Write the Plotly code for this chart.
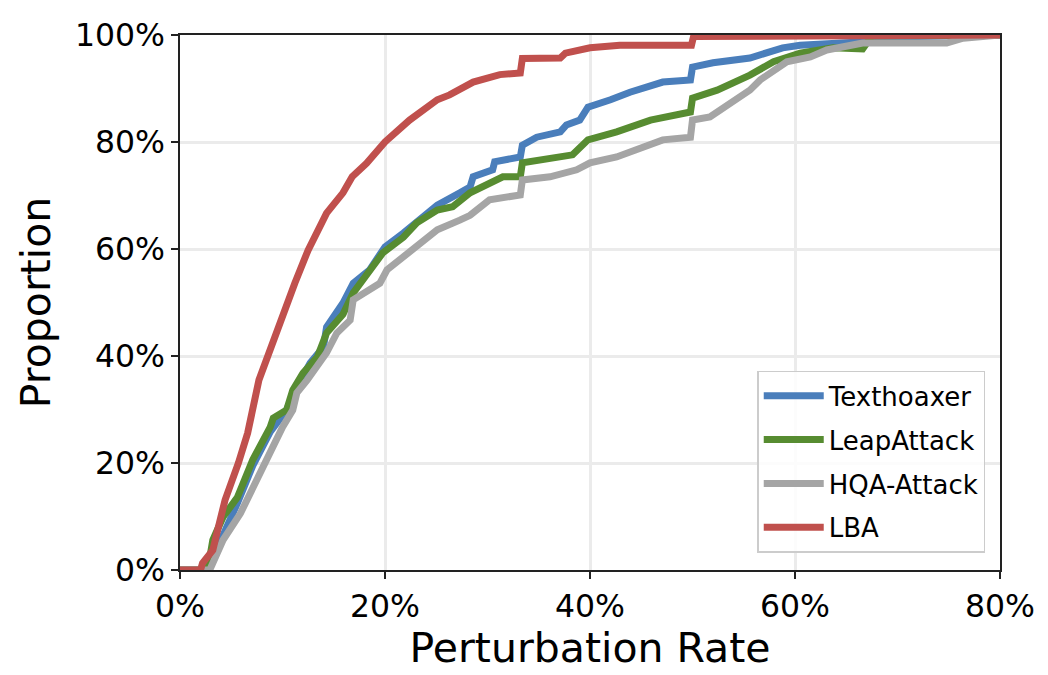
import plotly.graph_objects as go

# Perturbation rate (%) vs cumulative proportion (%)
lba_x = [0, 2.0, 2.2, 3.2, 3.6, 4.4, 5.7, 6.6, 7.7, 9.1, 10.0, 11.2, 12.5, 14.3, 15.9, 16.8, 18.2, 20.0,
         22.4, 25.1, 26.3, 28.6, 31.2, 33.2, 33.4, 37.1, 37.6, 40.0, 42.9, 49.9, 50.1, 80]
lba_y = [0, 0, 1.3, 3.7, 6.9, 13.1, 20.0, 25.6, 35.5, 43.0, 47.5, 53.6, 59.8, 66.7, 70.5, 73.5, 76.0, 80.0,
         84.1, 87.9, 88.8, 91.2, 92.6, 92.9, 95.6, 95.7, 96.6, 97.6, 98.1, 98.1, 99.7, 100]

tex_x = [0, 2.7, 3.3, 4.2, 5.6, 7.1, 8.8, 9.5, 10.4, 11.4, 12.7, 14.0, 14.3, 15.9, 16.9, 18.5, 20.0, 21.8,
         23.1, 25.1, 27.3, 28.3, 28.6, 30.5, 30.7, 33.2, 33.4, 34.8, 37.1, 37.7, 39.0, 39.8, 42.0, 43.9,
         47.1, 49.8, 50.0, 52.0, 55.6, 57.3, 58.8, 60.5, 63.1, 66.3, 68.0, 80]
tex_y = [0, 0, 2.0, 6.5, 12.5, 19.5, 25.8, 27.5, 29.9, 34.2, 38.7, 41.7, 45.4, 49.9, 53.6, 56.1, 60.4, 63.0,
         65.0, 68.2, 70.5, 71.6, 73.5, 74.8, 76.3, 77.2, 79.4, 80.9, 81.9, 83.2, 84.1, 86.5, 87.9, 89.3,
         91.2, 91.6, 94.0, 94.8, 95.7, 96.6, 97.6, 98.1, 98.5, 98.7, 99.6, 100]

leap_x = [0, 2.7, 3.2, 4.2, 5.6, 7.1, 8.8, 9.1, 10.4, 11.0, 12.0, 13.4, 14.3, 15.9, 16.9, 18.5, 19.8, 21.8,
          23.1, 25.1, 26.6, 28.3, 31.5, 33.2, 33.4, 38.3, 39.8, 42.6, 45.9, 49.8, 50.0, 52.4, 55.6, 57.9,
          60.5, 63.7, 66.6, 67.5, 80]
leap_y = [0, 0, 5.6, 9.9, 13.6, 20.6, 26.7, 28.4, 29.9, 33.6, 36.8, 39.8, 44.3, 47.8, 51.8, 56.1, 59.3, 62.2,
          64.9, 67.3, 67.9, 70.5, 73.5, 73.5, 76.1, 77.6, 80.4, 81.9, 84.1, 85.6, 88.2, 89.7, 92.5, 95.0,
          96.6, 97.6, 97.4, 99.8, 100]

hqa_x = [0, 2.9, 3.2, 4.2, 5.9, 7.5, 8.8, 10.0, 11.0, 11.4, 12.4, 13.4, 14.3, 15.3, 16.6, 16.9, 18.5, 19.5,
         20.2, 21.8, 23.4, 25.1, 27.3, 28.3, 30.2, 33.2, 33.4, 36.1, 38.7, 40.0, 42.6, 45.2, 47.1, 49.8,
         50.0, 51.7, 53.0, 55.6, 56.6, 59.2, 61.5, 63.1, 66.6, 74.8, 76.4, 80]
hqa_y = [0, 0, 1.3, 5.6, 10.6, 16.8, 22.4, 26.7, 29.9, 33.1, 35.5, 38.0, 40.6, 44.3, 46.7, 50.5, 52.3, 53.6,
         56.1, 58.5, 61.1, 63.6, 65.4, 66.3, 69.2, 70.1, 72.9, 73.5, 74.8, 76.1, 77.2, 79.1, 80.4, 80.9,
         84.1, 84.7, 86.5, 89.7, 91.6, 95.0, 95.9, 97.2, 98.5, 98.5, 99.4, 100]

series = [
    ("Texthoaxer", tex_x, tex_y, "#4a7ebb"),
    ("LeapAttack", leap_x, leap_y, "#578c31"),
    ("HQA-Attack", hqa_x, hqa_y, "#a5a5a5"),
    ("LBA", lba_x, lba_y, "#c0504d"),
]

x_ticks = [0, 20, 40, 60, 80]
x_labels = ["0%", "20%", "40%", "60%", "80%"]
y_ticks = [0, 20, 40, 60, 80, 100]
y_labels = ["0%", "20%", "40%", "60%", "80%", "100%"]

fig = go.Figure()
for name, xs, ys, col in series:
    fig.add_trace(go.Scatter(x=xs, y=ys, mode="lines", name=name, legendgroup=name,
                             line=dict(color=col, width=7)))

axis_common = dict(showline=True, linecolor="#222222", linewidth=1.5, mirror=True,
                   ticks="outside", ticklen=7, tickwidth=1.5, tickcolor="#222222",
                   showgrid=True, gridcolor="#ebebeb", gridwidth=3, zeroline=False,
                   tickmode="array", tickfont=dict(size=31.5, color="black"))

fig.update_layout(
    width=1048, height=675,
    margin=dict(l=180, r=48, t=35, b=105),
    paper_bgcolor="white", plot_bgcolor="white",
    font=dict(family="DejaVu Sans", color="black"),
    xaxis=dict(range=[0, 80], tickvals=x_ticks, ticktext=x_labels,
               title=dict(text="Perturbation Rate", font=dict(size=41), standoff=10),
               **axis_common),
    yaxis=dict(range=[0, 100], tickvals=y_ticks, ticktext=y_labels,
               title=dict(text="Proportion", font=dict(size=41), standoff=12),
               **axis_common),
    legend=dict(x=0.982, y=0.032, xanchor="right", yanchor="bottom",
                bgcolor="rgba(255,255,255,0.85)", bordercolor="#cccccc", borderwidth=1.5,
                font=dict(size=26), traceorder="grouped", tracegroupgap=7,
                itemwidth=60),
    showlegend=True,
)

fig.write_html("out.html")
